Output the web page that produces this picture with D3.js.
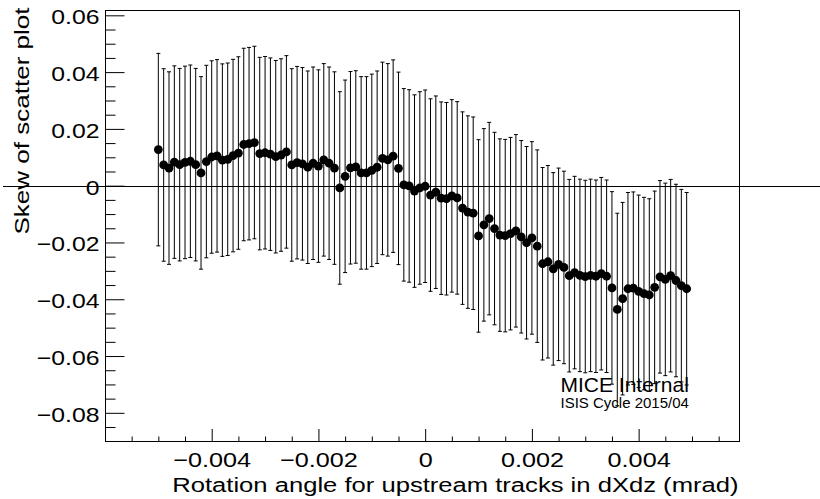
<!DOCTYPE html>
<html>
<head>
<meta charset="utf-8">
<script src="https://cdn.jsdelivr.net/npm/d3@7"></script>
<style>
  html, body { margin: 0; padding: 0; background: #fff; }
  svg { display: block; }
  text { font-family: "Liberation Sans", Arial, Helvetica, sans-serif; fill: #000; }
</style>
</head>
<body>
<svg id="chart" width="820" height="499"></svg>
<script>
// Rotation angle (dXdz) of upstream tracks
const rotationAngles = [
  -0.0050, -0.0049, -0.0048, -0.0047, -0.0046, -0.0045, -0.0044, -0.0043, -0.0042, -0.0041,
  -0.0040, -0.0039, -0.0038, -0.0037, -0.0036, -0.0035, -0.0034, -0.0033, -0.0032, -0.0031,
  -0.0030, -0.0029, -0.0028, -0.0027, -0.0026, -0.0025, -0.0024, -0.0023, -0.0022, -0.0021,
  -0.0020, -0.0019, -0.0018, -0.0017, -0.0016, -0.0015, -0.0014, -0.0013, -0.0012, -0.0011,
  -0.0010, -0.0009, -0.0008, -0.0007, -0.0006, -0.0005, -0.0004, -0.0003, -0.0002, -0.0001,
   0.0000,  0.0001,  0.0002,  0.0003,  0.0004,  0.0005,  0.0006,  0.0007,  0.0008,  0.0009,
   0.0010,  0.0011,  0.0012,  0.0013,  0.0014,  0.0015,  0.0016,  0.0017,  0.0018,  0.0019,
   0.0020,  0.0021,  0.0022,  0.0023,  0.0024,  0.0025,  0.0026,  0.0027,  0.0028,  0.0029,
   0.0030,  0.0031,  0.0032,  0.0033,  0.0034,  0.0035,  0.0036,  0.0037,  0.0038,  0.0039,
   0.0040,  0.0041,  0.0042,  0.0043,  0.0044,  0.0045,  0.0046,  0.0047,  0.0048,  0.0049
];

// Skew of the scatter plot at each rotation angle
const skewValues = [
   0.0127,  0.0073,  0.0062,  0.0083,  0.0074,  0.0082,  0.0086,  0.0074,  0.0045,  0.0085,
   0.0101,  0.0105,  0.0090,  0.0093,  0.0106,  0.0115,  0.0145,  0.0148,  0.0152,  0.0113,
   0.0116,  0.0111,  0.0102,  0.0108,  0.0119,  0.0073,  0.0081,  0.0077,  0.0065,  0.0079,
   0.0069,  0.0091,  0.0079,  0.0062, -0.0008,  0.0033,  0.0063,  0.0066,  0.0045,  0.0045,
   0.0054,  0.0065,  0.0096,  0.0091,  0.0104,  0.0061,  0.0003, -0.0001, -0.0019, -0.0008,
  -0.0002, -0.0033, -0.0023, -0.0044, -0.0046, -0.0036, -0.0043, -0.0079, -0.0093, -0.0097,
  -0.0177, -0.0138, -0.0116, -0.0151, -0.0174, -0.0176, -0.0169, -0.0159, -0.0180, -0.0201,
  -0.0184, -0.0213, -0.0275, -0.0268, -0.0293, -0.0277, -0.0288, -0.0317, -0.0306, -0.0316,
  -0.0320, -0.0316, -0.0319, -0.0310, -0.0319, -0.0360, -0.0436, -0.0398, -0.0363, -0.0361,
  -0.0372, -0.0380, -0.0385, -0.0358, -0.0321, -0.0330, -0.0317, -0.0334, -0.0352, -0.0363
];

// Symmetric uncertainty on each skew value
const skewErrors = [
  0.0339, 0.0339, 0.0339, 0.0339, 0.0339, 0.0339, 0.0339, 0.0339, 0.0339, 0.0339,
  0.0339, 0.0339, 0.0339, 0.0339, 0.0339, 0.0339, 0.0339, 0.0339, 0.0339, 0.0339,
  0.0339, 0.0339, 0.0339, 0.0339, 0.0339, 0.0339, 0.0339, 0.0339, 0.0339, 0.0339,
  0.0339, 0.0339, 0.0339, 0.0339, 0.0339, 0.0339, 0.0339, 0.0339, 0.0339, 0.0339,
  0.0339, 0.0339, 0.0339, 0.0339, 0.0339, 0.0339, 0.0339, 0.0339, 0.0339, 0.0339,
  0.0339, 0.0339, 0.0339, 0.0339, 0.0339, 0.0339, 0.0339, 0.0339, 0.0339, 0.0339,
  0.0339, 0.0339, 0.0339, 0.0339, 0.0339, 0.0339, 0.0339, 0.0339, 0.0339, 0.0339,
  0.0339, 0.0339, 0.0339, 0.0339, 0.0339, 0.0339, 0.0339, 0.0339, 0.0339, 0.0339,
  0.0339, 0.0339, 0.0339, 0.0339, 0.0339, 0.0339, 0.0339, 0.0339, 0.0339, 0.0339,
  0.0339, 0.0339, 0.0339, 0.0339, 0.0339, 0.0339, 0.0339, 0.0339, 0.0339, 0.0339
];

// Axis ranges and ticks
const xDomain = [-0.00599, 0.00589];
const yDomain = [-0.0901, 0.0617];
const xMajorTicks = [-0.004, -0.002, 0, 0.002, 0.004];
const xMinorTicks = [-0.0055, -0.005, -0.0045, -0.0035, -0.003, -0.0025, -0.0015, -0.001, -0.0005,
                     0.0005, 0.001, 0.0015, 0.0025, 0.003, 0.0035, 0.0045, 0.005, 0.0055];
const yMajorTicks = [-0.08, -0.06, -0.04, -0.02, 0, 0.02, 0.04, 0.06];
const yMinorTicks = [-0.085, -0.075, -0.07, -0.065, -0.055, -0.05, -0.045, -0.035, -0.03, -0.025,
                     -0.015, -0.01, -0.005, 0.005, 0.01, 0.015, 0.025, 0.03, 0.035, 0.045, 0.05, 0.055];

const xTitle = "Rotation angle for upstream tracks in dXdz (mrad)";
const yTitle = "Skew of scatter plot";
const stampMain = "MICE Internal";
const stampSub = "ISIS Cycle 2015/04";

const W = 820, H = 499;
const frame = { left: 105.5, right: 739.5, top: 10.5, bottom: 441.5 };

const svg = d3.select("#chart");

const x = d3.scaleLinear().domain(xDomain).range([frame.left, frame.right]);
const y = d3.scaleLinear().domain(yDomain).range([frame.bottom, frame.top]);

const fmtX = d => d === 0 ? "0" : d3.format(".3f")(d);
const fmtY = d => d === 0 ? "0" : d3.format(".2f")(d);

// Frame
svg.append("rect")
  .attr("x", frame.left).attr("y", frame.top)
  .attr("width", frame.right - frame.left).attr("height", frame.bottom - frame.top)
  .attr("fill", "none").attr("stroke", "#000").attr("stroke-width", 1);

// Y axis (ticks point inward)
const gy = svg.append("g").attr("transform", `translate(${frame.left},0)`);
gy.append("g").call(d3.axisLeft(y).tickValues(yMinorTicks).tickSize(-10).tickFormat(""));
gy.append("g").call(d3.axisLeft(y).tickValues(yMajorTicks).tickSize(-19).tickPadding(6).tickFormat(fmtY));
gy.selectAll(".domain").remove();
gy.selectAll(".tick line").attr("stroke", "#000");
gy.selectAll(".tick text")
  .attr("dy", null)
  .attr("transform", function () {
    const tx = +d3.select(this).attr("x");
    return `translate(${tx},8.5) scale(1.18,1)`;
  })
  .attr("x", 0).attr("y", 0)
  .style("font-size", "21px")
  .attr("fill", "#000");

// X axis (ticks point inward)
const gx = svg.append("g").attr("transform", `translate(0,${frame.bottom})`);
gx.append("g").call(d3.axisBottom(x).tickValues(xMinorTicks).tickSize(-5).tickFormat(""));
gx.append("g").call(d3.axisBottom(x).tickValues(xMajorTicks).tickSize(-12.5).tickFormat(fmtX));
gx.selectAll(".domain").remove();
gx.selectAll(".tick line").attr("stroke", "#000");
gx.selectAll(".tick text")
  .attr("dy", null)
  .attr("x", 0).attr("y", 0)
  .attr("transform", "translate(0,25.5) scale(1.2,1)")
  .style("font-size", "21px")
  .attr("fill", "#000");

// Axis titles
svg.append("text")
  .attr("transform", `translate(${frame.right - 1},491.5) scale(1.22,1)`)
  .attr("text-anchor", "end")
  .style("font-size", "21px")
  .text(xTitle);

svg.append("text")
  .attr("transform", `translate(28.5, 7.5) rotate(-90) scale(1.24,1)`)
  .attr("text-anchor", "end")
  .style("font-size", "21px")
  .text(yTitle);

// Stamp
svg.append("text")
  .attr("x", 560.5).attr("y", 392.3)
  .style("font-size", "21px")
  .text(stampMain);
svg.append("text")
  .attr("x", 560.5).attr("y", 408.3)
  .style("font-size", "15px")
  .text(stampSub);

// Zero reference line across the canvas
svg.append("line")
  .attr("x1", 3).attr("x2", W)
  .attr("y1", Math.round(y(0)) + 0.5).attr("y2", Math.round(y(0)) + 0.5)
  .attr("stroke", "#000").attr("stroke-width", 1);

// Data with error bars
const points = rotationAngles.map((a, i) => ({ a, v: skewValues[i], e: skewErrors[i] }));
const capHalf = 2;

const bars = svg.append("g").attr("stroke", "#000").attr("stroke-width", 1);
bars.selectAll("line.err").data(points).join("line")
  .attr("class", "err")
  .attr("x1", d => x(d.a)).attr("x2", d => x(d.a))
  .attr("y1", d => y(d.v + d.e)).attr("y2", d => y(d.v - d.e));
bars.selectAll("line.capTop").data(points).join("line")
  .attr("class", "capTop")
  .attr("x1", d => x(d.a) - capHalf).attr("x2", d => x(d.a) + capHalf)
  .attr("y1", d => y(d.v + d.e)).attr("y2", d => y(d.v + d.e));
bars.selectAll("line.capBot").data(points).join("line")
  .attr("class", "capBot")
  .attr("x1", d => x(d.a) - capHalf).attr("x2", d => x(d.a) + capHalf)
  .attr("y1", d => y(d.v - d.e)).attr("y2", d => y(d.v - d.e));

svg.append("g").selectAll("circle").data(points).join("circle")
  .attr("cx", d => x(d.a)).attr("cy", d => y(d.v))
  .attr("r", 4.4)
  .attr("fill", "#000");
</script>
</body>
</html>
